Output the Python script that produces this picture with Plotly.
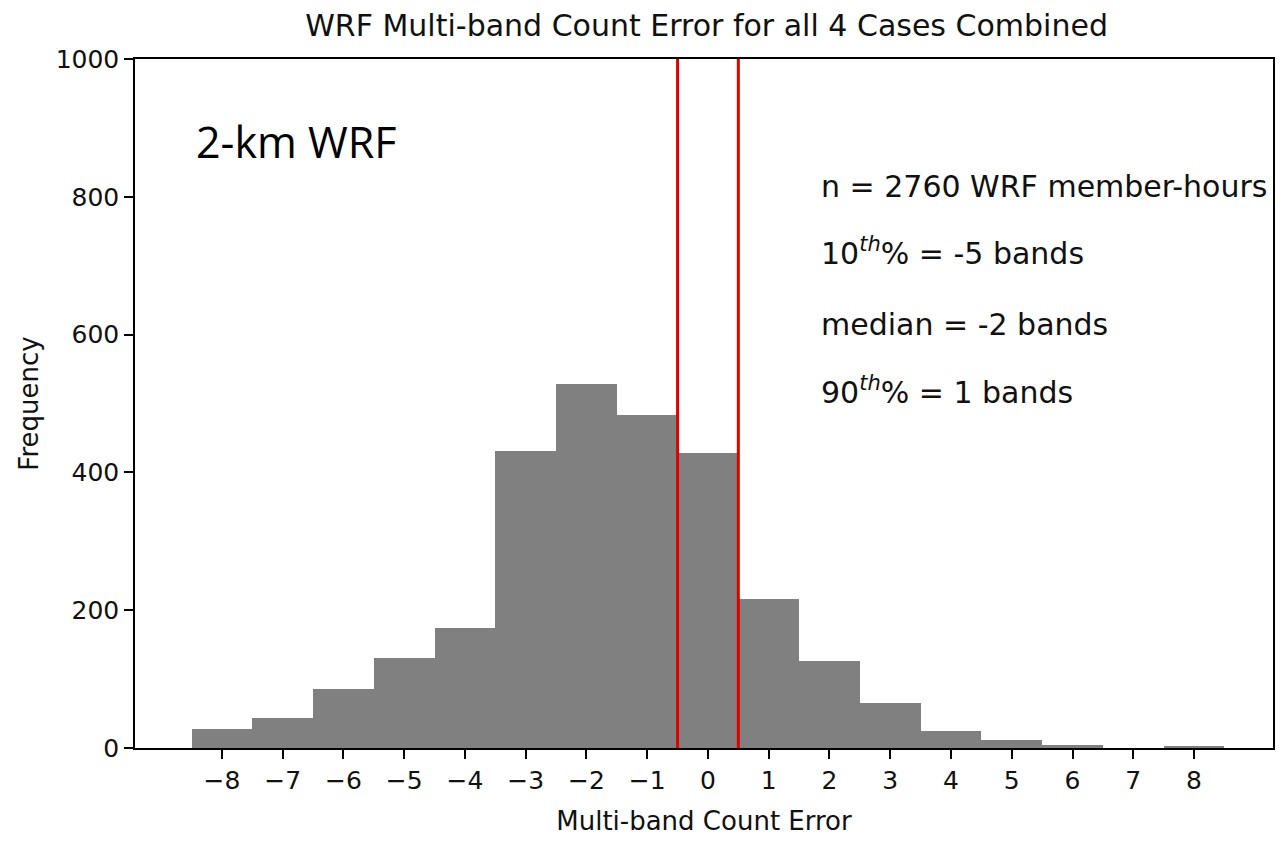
import plotly.graph_objects as go

# Histogram of multi-band count error (bin centres and counts)
error_bins = [-8, -7, -6, -5, -4, -3, -2, -1, 0, 1, 2, 3, 4, 5, 6, 7, 8]
frequency = [27, 43, 85, 131, 174, 431, 529, 483, 428, 216, 127, 65, 25, 12, 5, 0, 3]

# Vertical markers bounding the zero-error bin
marker_lines = [-0.5, 0.5]

x_ticks = list(range(-8, 9))
x_tick_text = [("\u2212" + str(-v)) if v < 0 else str(v) for v in x_ticks]
y_ticks = [0, 200, 400, 600, 800, 1000]

stats_lines = [
    ("n = 2760 WRF member-hours", 815),
    ("10<sup><i>th</i></sup>% = -5 bands", 720),
    ("median = -2 bands", 615),
    ("90<sup><i>th</i></sup>% = 1 bands", 519),
]

fig = go.Figure()
fig.add_trace(go.Bar(
    x=error_bins,
    y=frequency,
    width=1.0,
    marker=dict(color="#808080", line=dict(width=0)),
    showlegend=False,
))

for xv in marker_lines:
    fig.add_shape(type="line", xref="x", yref="paper", x0=xv, x1=xv, y0=0, y1=1,
                  line=dict(color="#e00000", width=3), layer="above")

for text, yv in stats_lines:
    fig.add_annotation(x=0.601, xref="paper", y=yv, yref="y", text=text,
                       showarrow=False, xanchor="left", yanchor="middle",
                       font=dict(family="DejaVu Sans", size=30, color="#111111"))

fig.add_annotation(x=0.052, xref="paper", y=880, yref="y", text="2-km WRF",
                   showarrow=False, xanchor="left", yanchor="middle",
                   font=dict(family="Open Sans", size=43, color="#000000"))

fig.update_layout(
    width=1280, height=844,
    margin=dict(l=135, r=5, t=59, b=96),
    paper_bgcolor="white", plot_bgcolor="white",
    bargap=0,
    title=dict(text="WRF Multi-band Count Error for all 4 Cases Combined",
               x=0.552, xanchor="center", y=0.97, yanchor="middle",
               font=dict(family="DejaVu Sans", size=30, color="#111111")),
    font=dict(family="DejaVu Sans", color="#111111"),
)

fig.update_xaxes(
    range=[-9.43, 9.30], tickvals=x_ticks, ticktext=x_tick_text,
    ticks="outside", ticklen=9, tickwidth=1.5, tickcolor="black",
    showline=True, linecolor="black", linewidth=1.5, mirror=True,
    showgrid=False, zeroline=False,
    tickfont=dict(size=25),
    title=dict(text="Multi-band Count Error", font=dict(size=26), standoff=18),
)
fig.update_yaxes(
    range=[0, 1000], tickvals=y_ticks,
    ticks="outside", ticklen=9, tickwidth=1.5, tickcolor="black",
    showline=True, linecolor="black", linewidth=1.5, mirror=True,
    showgrid=False, zeroline=False,
    tickfont=dict(size=25),
    title=dict(text="Frequency", font=dict(size=26), standoff=10),
)

fig.write_html("out.html")
